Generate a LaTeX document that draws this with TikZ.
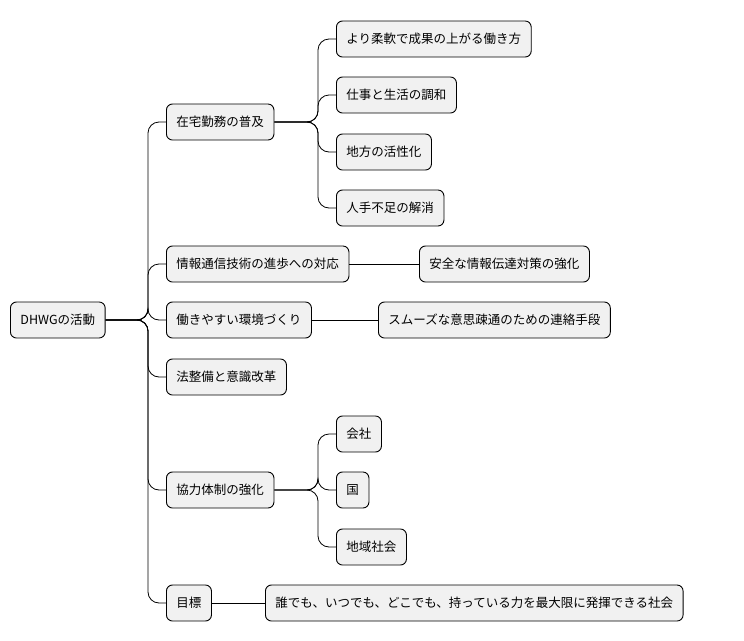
\documentclass[tikz,border=0pt]{standalone}
\usepackage{fontspec}
\setmainfont{Noto Sans CJK JP}
\usetikzlibrary{calc}
\tikzset{
  box/.style={draw=black, line width=0.9pt, fill=black!5.5, rounded corners=6pt, anchor=west, minimum height=36pt, inner xsep=10pt, font=\fontsize{12.5}{14}\selectfont},
  conn/.style={draw=black, line width=0.8pt, rounded corners=11pt}
}
\newcommand{\link}[2]{\draw[conn] (#1.east) -| ($(#2.west)+(-18pt,0)$) -- (#2.west);}
\begin{document}
\begin{tikzpicture}[x=1pt,y=-1pt]
\useasboundingbox (0,0) rectangle (744,640);
\node[box] (r) at (10,320) {DHWGの活動};
\node[box] (a) at (166,122) {在宅勤務の普及};
\node[box] (b) at (166,264) {情報通信技術の進歩への対応};
\node[box] (c) at (166,320) {働きやすい環境づくり};
\node[box] (d) at (166,377) {法整備と意識改革};
\node[box] (e) at (166,490) {協力体制の強化};
\node[box] (f) at (166,603) {目標};
\node[box] (a1) at (336,39) {より柔軟で成果の上がる働き方};
\node[box] (a2) at (336,95) {仕事と生活の調和};
\node[box] (a3) at (336,152) {地方の活性化};
\node[box] (a4) at (336,208) {人手不足の解消};
\node[box] (b1) at (419,264) {安全な情報伝達対策の強化};
\node[box] (c1) at (378,320) {スムーズな意思疎通のための連絡手段};
\node[box] (e1) at (336,434) {会社};
\node[box] (e2) at (336,490) {国};
\node[box] (e3) at (336,547) {地域社会};
\node[box] (f1) at (265,603) {誰でも、いつでも、どこでも、持っている力を最大限に発揮できる社会};
\foreach \c in {a,b,c,d,e,f} {\link{r}{\c}}
\foreach \c in {a1,a2,a3,a4} {\link{a}{\c}}
\foreach \c in {e1,e2,e3} {\link{e}{\c}}
\draw[conn] (b.east) -- (b1.west);
\draw[conn] (c.east) -- (c1.west);
\draw[conn] (f.east) -- (f1.west);
\end{tikzpicture}
\end{document}
